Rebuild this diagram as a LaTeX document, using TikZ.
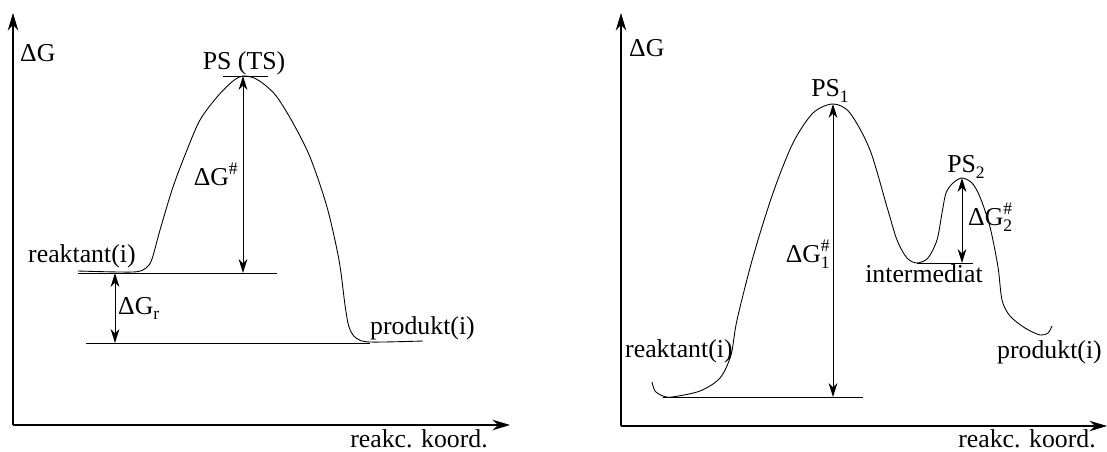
\documentclass[tikz,border=0pt]{standalone}
\usepackage{fontspec}
\setmainfont{Liberation Serif}
\usetikzlibrary{arrows.meta,positioning}
\tikzset{
  axis/.style   = {-{Stealth[length=15pt,width=9pt]}, line width=0.9pt},
  curve/.style  = {line width=0.75pt},
  lvl/.style    = {line width=0.8pt},
  dimarr/.style = {{Stealth[length=12pt,width=7.5pt]}-{Stealth[length=12pt,width=7.5pt]},
                   line width=0.8pt},
  lbl/.style    = {font=\fontsize{22}{26}\selectfont, inner sep=0pt},
}
\newcommand{\hsup}[1]{\raisebox{10pt}{\fontsize{15}{15}\selectfont #1}}
\newcommand{\hsub}[1]{\raisebox{-5pt}{\fontsize{15}{15}\selectfont #1}}
\newcommand{\supsub}[2]{\rlap{\hsup{#1}}\hsub{#2}}

\begin{document}
\begin{tikzpicture}[x=0.03cm, y=-0.03cm]
\useasboundingbox (0,0) rectangle (1107,452);

%% Left diagram: one step
\coordinate (l_org)  at (13,425);
\coordinate (l_top)  at (13,13);
\coordinate (l_end)  at (510,425);
\coordinate (l_ts)   at (243,76);
\coordinate (l_reak) at (243,273);
\coordinate (l_rl)   at (78,273);
\coordinate (l_rr)   at (277,273);
\coordinate (l_pl)   at (86,343);
\coordinate (l_pr)   at (370,343);
\coordinate (l_r1)   at (115,273);
\coordinate (l_p1)   at (115,343);

\draw[axis] (l_org) -- (l_top);
\draw[axis] (l_org) -- (l_end);
\node[lbl, anchor=base west] (l_dg)    at (20,62)   {ΔG};
\node[lbl, anchor=base east] (l_koord) at (488,447) {reakc. koord.};

\draw[curve] plot[smooth, tension=0.5] coordinates {
  (78,271) (133,272) (146,268) (152,259) (160,230) (173,187) (187,150)
  (200,120) (217,97) (233,81) (243,76) (254,78) (265,85) (277,97)
  (293,123) (310,157) (327,207) (339,260) (345,305) (349,327)
  (356,338) (370,342) (423,341)};

\draw[lvl] (223,76) -- (268,76);
\draw[lvl] (l_rl) -- (l_rr);
\draw[lvl] (l_pl) -- (l_pr);
\draw[dimarr] (l_ts) -- (l_reak);
\draw[dimarr] (l_r1) -- (l_p1);

\node[lbl, anchor=base]      (l_ps)   at (244,70)  {PS (TS)};
\node[lbl, anchor=base east] (l_dgts) at (238,186) {ΔG\hsup{\#}};
\node[lbl, anchor=base west] (l_dgr)  at (118,314) {ΔG\hsub{r}};
\node[lbl, anchor=base west] (l_rtxt) at (28,263)  {reaktant(i)};
\node[lbl, anchor=base west] (l_ptxt) at (370,335) {produkt(i)};

%% Right diagram: two steps
\coordinate (r_org)  at (621,426);
\coordinate (r_top)  at (621,13);
\coordinate (r_end)  at (1107,426);
\coordinate (r_ts1)  at (833,104);
\coordinate (r_base) at (833,397);
\coordinate (r_bl)   at (663,397);
\coordinate (r_br)   at (863,397);
\coordinate (r_ts2)  at (962,178);
\coordinate (r_int)  at (962,263);
\coordinate (r_il)   at (917,263);
\coordinate (r_ir)   at (973,263);

\draw[axis] (r_org) -- (r_top);
\draw[axis] (r_org) -- (r_end);
\node[lbl, anchor=base west] (r_dg)    at (629,57)   {ΔG};
\node[lbl, anchor=base east] (r_koord) at (1096,447) {reakc. koord.};

\draw[curve] plot[smooth, tension=0.5] coordinates {
  (652,382) (655,391) (663,396) (672,397) (700,391) (720,378)
  (731,355) (737,320) (753,257) (773,193) (793,143) (813,113)
  (833,104) (850,113) (870,150) (887,207) (897,240) (907,258)
  (917,263) (928,258) (937,240) (942,213) (946,193) (953,183)
  (962,178) (972,183) (980,197) (990,227) (998,267) (1002,300)
  (1010,316) (1025,328) (1040,335) (1048,333) (1052,326)};

\draw[lvl] (r_bl) -- (r_br);
\draw[lvl] (r_il) -- (r_ir);
\draw[dimarr] (r_ts1) -- (r_base);
\draw[dimarr] (r_ts2) -- (r_int);

\node[lbl, anchor=base]      (r_ps1)  at (830,97)  {PS\hsub{1}};
\node[lbl, anchor=base]      (r_ps2)  at (966,173) {PS\hsub{2}};
\node[lbl, anchor=base east] (r_dg1)  at (830,263) {ΔG\supsub{\#}{1}};
\node[lbl, anchor=base west] (r_dg2)  at (968,226) {ΔG\supsub{\#}{2}};
\node[lbl, anchor=base]      (r_itxt) at (924,283) {intermediat};
\node[lbl, anchor=base west] (r_rtxt) at (625,357) {reaktant(i)};
\node[lbl, anchor=base west] (r_ptxt) at (997,358) {produkt(i)};

\end{tikzpicture}
\end{document}
